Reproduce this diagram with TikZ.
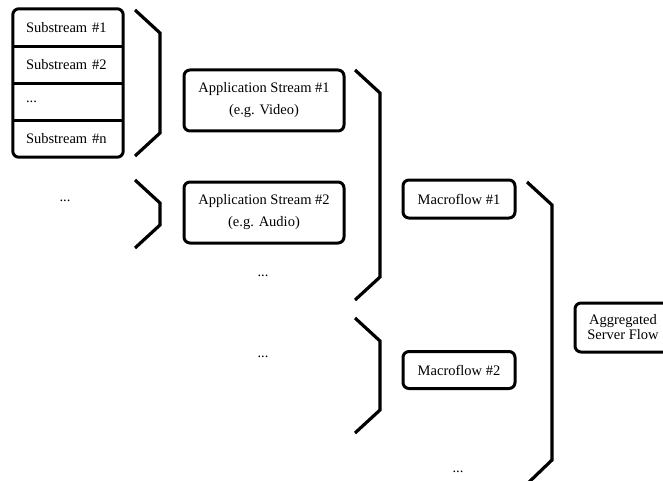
\documentclass[tikz,border=0pt]{standalone}
\usepackage{fontspec}
\setmainfont{Liberation Serif}
\begin{document}
\begin{tikzpicture}[x=1pt,y=-1pt,
  every node/.style={font=\fontsize{14.5}{17}\selectfont},
  flowbox/.style={draw, line width=3pt, rounded corners=6pt, align=center, inner sep=0pt},
  rowbox/.style={minimum height=37pt, text width=84pt, inner xsep=13pt, inner ysep=0pt, align=left},
  brace/.style={line width=3.2pt, line cap=butt, line join=miter},
  frame/.style={line width=3pt, rounded corners=6pt},
  divider/.style={line width=3pt}]
\useasboundingbox (0,0) rectangle (663,481);

% substream stack
\node[rowbox] (sub1) at (68,27.5) {Substream \#1};
\node[rowbox] (sub2) at (68,64.5) {Substream \#2};
\node[rowbox] (sub3) at (68,101.5) {...};
\node[rowbox] (subn) at (68,138.5) {Substream \#n};
\draw[frame] (sub1.north west) rectangle (subn.south east);
\draw[divider] (sub1.south west) -- (sub1.south east);
\draw[divider] (sub2.south west) -- (sub2.south east);
\draw[divider] (sub3.south west) -- (sub3.south east);

\node (dotsA) at (65,201) {...};

% application streams
\node[flowbox, minimum width=160pt, minimum height=61pt] (app1) at (264,100.5)
  {Application Stream \#1\\[5pt](e.g. Video)};
\node[flowbox, minimum width=160pt, minimum height=61pt] (app2) at (264,212.5)
  {Application Stream \#2\\[5pt](e.g. Audio)};
\node (dotsB) at (263,276) {...};
\node (dotsC) at (263,357) {...};

% macroflows
\node[flowbox, minimum width=112pt, minimum height=38pt] (mac1) at (459,199) {Macroflow \#1};
\node[flowbox, minimum width=112pt, minimum height=37pt] (mac2) at (459,370) {Macroflow \#2};
\node (dotsD) at (458,472) {...};

% aggregate
\node[flowbox, minimum width=96pt, minimum height=49pt,
  font=\fontsize{14.5}{15}\selectfont] (agg) at (623,327.5) {Aggregated\\Server Flow};

% grouping braces
\draw[brace] (135,10) -- (160,33) -- (160,133) -- (135,156);
\draw[brace] (135,180) -- (160,203) -- (160,225) -- (135,248);
\draw[brace] (355,70) -- (380,93) -- (380,277) -- (355,300);
\draw[brace] (355,318) -- (380,341) -- (380,410) -- (355,433);
\draw[brace] (527,182) -- (552,205) -- (552,460) -- (527,484);
\end{tikzpicture}
\end{document}
